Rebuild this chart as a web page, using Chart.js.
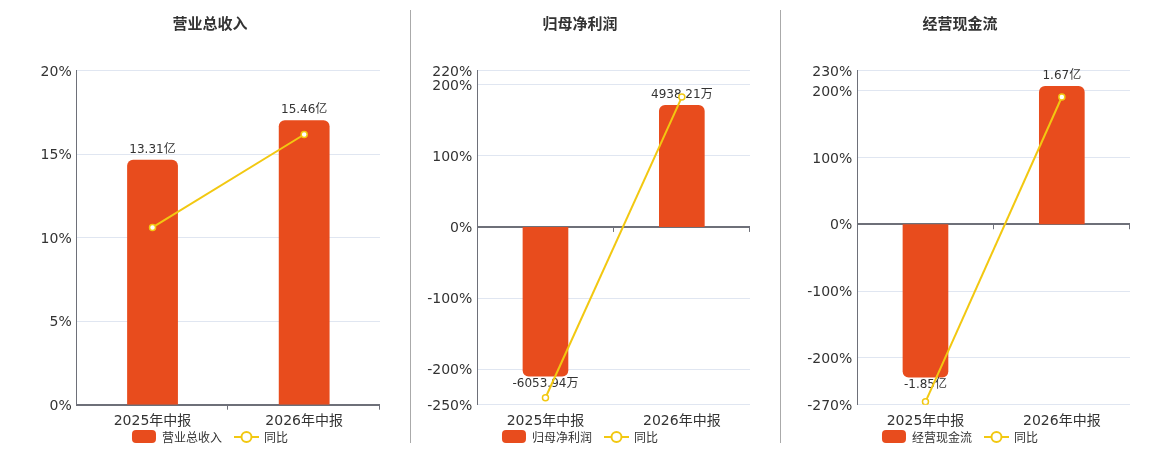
<!DOCTYPE html>
<html>
<head>
<meta charset="utf-8">
<script src="https://cdn.jsdelivr.net/npm/chart.js@4.4.0/dist/chart.umd.min.js"></script>
<style>
  body { margin: 0; width: 1160px; height: 450px; position: relative; background: #fff; overflow: hidden;
         font-family: "Noto Sans CJK SC", "Noto Sans", sans-serif; }
  .panel { position: absolute; top: 0; height: 450px; }
  .title { position: absolute; top: 12px; transform: translateX(-50%); font-size: 15px; font-weight: bold; color: #333; white-space: nowrap; }
  .sep { position: absolute; top: 10px; height: 433px; width: 1px; background: #aaa; }
  .legend { position: absolute; top: 428px; transform: translateX(-50%); display: flex; align-items: center;
            font-size: 12px; color: #333; white-space: nowrap; }
  .legend .box { width: 24px; height: 13px; border-radius: 4px; background: #E84C1D; margin-right: 6px; }
  .legend svg { margin: 0 5px 0 12px; }
</style>
</head>
<body>
<div class="sep" style="left:410px"></div>
<div class="sep" style="left:780px"></div>

<div class="panel" style="left:0;width:410px"><canvas id="c1"></canvas></div>
<div class="panel" style="left:411px;width:369px"><canvas id="c2"></canvas></div>
<div class="panel" style="left:781px;width:379px"><canvas id="c3"></canvas></div>

<div class="title" style="left:210px">营业总收入</div>
<div class="title" style="left:580px">归母净利润</div>
<div class="title" style="left:960px">经营现金流</div>

<div class="legend" id="lg1" style="left:210px"></div>
<div class="legend" id="lg2" style="left:580px"></div>
<div class="legend" id="lg3" style="left:960px"></div>

<script>
const categories = ['2025年中报', '2026年中报'];

// 营业总收入 (亿)
const revenue = [13.31, 15.46];
const revenueLabels = ['13.31亿', '15.46亿'];
const revenueYoy = [10.61, 16.17];
const revenueTicks = [0, 5, 10, 15, 20];

// 归母净利润 (万)
const profit = [-6053.94, 4938.21];
const profitLabels = ['-6053.94万', '4938.21万'];
const profitYoy = [-240.2, 182.6];
const profitTicks = [-250, -200, -100, 0, 100, 200, 220];

// 经营现金流 (亿)
const cashflow = [-1.85, 1.67];
const cashflowLabels = ['-1.85亿', '1.67亿'];
const cashflowYoy = [-265.7, 190.4];
const cashflowTicks = [-270, -200, -100, 0, 100, 200, 230];

const BAR = '#E84C1D';
const LINE = '#F2C811';
const AXIS = '#6E7079';
const GRID = '#E0E6F1';
const FONT = '"DejaVu Sans", "Noto Sans CJK SC", sans-serif';

// bar value labels, drawn right after the bars so the line sits on top
const barLabels = {
  id: 'barLabels',
  afterDatasetDraw(chart, args, opts) {
    if (args.index !== 0) return;
    const ctx = chart.ctx;
    ctx.save();
    ctx.font = '12px ' + FONT;
    ctx.fillStyle = '#333';
    ctx.textAlign = 'center';
    args.meta.data.forEach((bar, i) => {
      const v = chart.data.datasets[0].data[i];
      if (v >= 0) { ctx.textBaseline = 'bottom'; ctx.fillText(opts.texts[i], bar.x, bar.y - 4); }
      else { ctx.textBaseline = 'top'; ctx.fillText(opts.texts[i], bar.x, bar.y + 1); }
    });
    ctx.restore();
  }
};

// small tick marks under the zero line at category boundaries
const zeroTicks = {
  id: 'zeroTicks',
  beforeDatasetsDraw(chart) {
    const x = chart.scales.x, y = chart.scales.y, ctx = chart.ctx;
    const y0 = y.getPixelForValue(0);
    const n = chart.data.labels.length;
    const step = (x.right - x.left) / n;
    ctx.save();
    ctx.strokeStyle = AXIS;
    ctx.lineWidth = 1;
    ctx.beginPath();
    for (let i = 1; i <= n; i++) {
      const px = Math.round(x.left + i * step) - 0.5;
      ctx.moveTo(px, y0);
      ctx.lineTo(px, y0 + 5);
    }
    ctx.stroke();
    ctx.restore();
  }
};

function makeChart(id, name, values, texts, yoy, ticks, barMin, barMax, yWidth) {
  new Chart(document.getElementById(id), {
    type: 'bar',
    data: {
      labels: categories,
      datasets: [
        { label: name, data: values, yAxisID: 'y2', backgroundColor: BAR, borderRadius: 6,
          borderSkipped: 'start', barPercentage: 0.335, categoryPercentage: 1, order: 1 },
        { type: 'line', label: '同比', data: yoy, yAxisID: 'y', borderColor: LINE, borderWidth: 2,
          pointRadius: 3, pointBorderWidth: 1.5, pointBackgroundColor: '#fff', pointBorderColor: LINE, order: 0 }
      ]
    },
    options: {
      responsive: true,
      maintainAspectRatio: false,
      animation: false,
      layout: { padding: { top: 70.5, right: 30, left: 0, bottom: 0 } },
      plugins: { legend: { display: false }, tooltip: { enabled: false }, barLabels: { texts } },
      scales: {
        x: {
          grid: { display: false },
          border: { display: false },
          ticks: { color: '#333', font: { size: 14, family: FONT }, padding: 0 },
          afterFit: s => { s.height = 45.3; }
        },
        y: {
          min: ticks[0], max: ticks[ticks.length - 1],
          afterBuildTicks: s => { s.ticks = ticks.map(v => ({ value: v })); },
          grid: {
            drawTicks: false,
            color: c => c.tick && c.tick.value === 0 ? AXIS : GRID,
            lineWidth: c => c.tick && c.tick.value === 0 ? 2 : 1
          },
          border: { display: true, color: AXIS, width: 1 },
          ticks: { color: '#333', padding: 5, labelOffset: 1.5, font: { size: 14, family: FONT }, callback: v => v + '%' },
          afterFit: s => { s.width = yWidth; }
        },
        y2: { display: false, min: barMin, max: barMax }
      }
    },
    plugins: [barLabels, zeroTicks]
  });
}

function makeLegend(id, name) {
  document.getElementById(id).innerHTML =
    '<span class="box"></span><span>' + name + '</span>' +
    '<svg width="25" height="14"><line x1="0" y1="7" x2="25" y2="7" stroke="' + LINE + '" stroke-width="2"/>' +
    '<circle cx="12.5" cy="7" r="5" fill="#fff" stroke="' + LINE + '" stroke-width="2"/></svg><span>同比</span>';
}

makeChart('c1', '营业总收入', revenue, revenueLabels, revenueYoy, revenueTicks, 0, 18.16, 76.7);
makeChart('c2', '归母净利润', profit, profitLabels, profitYoy, profitTicks, -7200, 6336, 66.3);
makeChart('c3', '经营现金流', cashflow, cashflowLabels, cashflowYoy, cashflowTicks, -2.179, 1.857, 76.3);

makeLegend('lg1', '营业总收入');
makeLegend('lg2', '归母净利润');
makeLegend('lg3', '经营现金流');
</script>
</body>
</html>
